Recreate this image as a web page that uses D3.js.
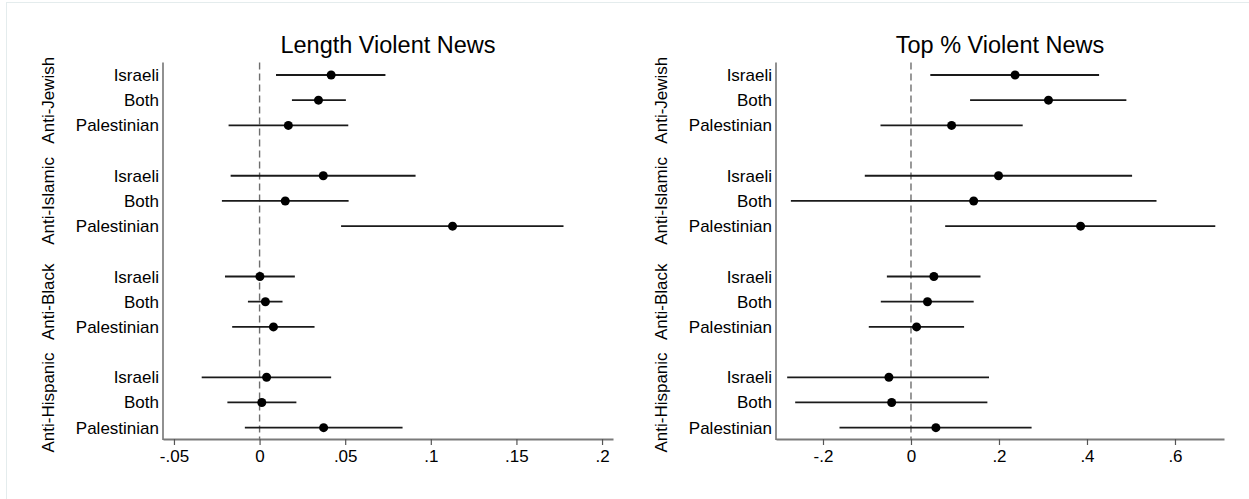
<!DOCTYPE html>
<html>
<head>
<meta charset="utf-8">
<script src="https://cdn.jsdelivr.net/npm/d3@7"></script>
<style>
  html, body { margin: 0; padding: 0; background: #fff; }
  svg { display: block; }
  text { font-family: "Liberation Sans", Arial, Helvetica, sans-serif; fill: #000; }
</style>
</head>
<body>
<svg id="chart" width="1249" height="499"></svg>
<script>
// ---- data ----
const groups = ["Anti-Jewish", "Anti-Islamic", "Anti-Black", "Anti-Hispanic"];
const sources = ["Israeli", "Both", "Palestinian"];

// Panel 1: Length Violent News (order: group x source)
const lengthEst = [0.0418, 0.0344, 0.0168,  0.0372, 0.0150, 0.1127,  0.0002, 0.0034, 0.0081,  0.0041, 0.0013, 0.0374];
const lengthLo  = [0.0096, 0.0189, -0.0181, -0.0169, -0.0220, 0.0476, -0.0202, -0.0068, -0.0160, -0.0338, -0.0188, -0.0086];
const lengthHi  = [0.0735, 0.0504, 0.0518,  0.0911, 0.0520, 0.1775,  0.0206, 0.0134, 0.0321,  0.0418, 0.0215, 0.0835];
const lengthTicks = [-0.05, 0, 0.05, 0.1, 0.15, 0.2];
const lengthTickLabels = ["-.05", "0", ".05", ".1", ".15", ".2"];

// Panel 2: Top % Violent News
const topEst = [0.2366, 0.3125, 0.0923,  0.1990, 0.1425, 0.3855,  0.0520, 0.0375, 0.0127,  -0.0502, -0.0439, 0.0566];
const topLo  = [0.0439, 0.1343, -0.0693, -0.1050, -0.2730, 0.0777, -0.0548, -0.0686, -0.0959, -0.2814, -0.2632, -0.1625];
const topHi  = [0.4275, 0.4895, 0.2539,  0.5025, 0.5580, 0.6916,  0.1580, 0.1425, 0.1207,  0.1773, 0.1736, 0.2741];
const topTicks = [-0.2, 0, 0.2, 0.4, 0.6];
const topTickLabels = ["-.2", "0", ".2", ".4", ".6"];

const titles = ["Length Violent News", "Top % Violent News"];

// ---- layout ----
const svg = d3.select("#chart");

// faint frame
svg.append("rect").attr("x", 6.5).attr("y", 2.5).attr("width", 1260).attr("height", 520)
  .attr("fill", "none").attr("stroke", "#e4eced").attr("stroke-width", 1);

const y = d3.scaleLinear().domain([-0.5, 14.45]).range([62.4, 439]);
const rowPos = (g, s) => g * 4 + s;

const panels = [
  { left: 163, right: 613, domain: [-0.0564, 0.2064], est: lengthEst, lo: lengthLo, hi: lengthHi,
    ticks: lengthTicks, tickLabels: lengthTickLabels, title: titles[0], groupX: 54 },
  { left: 776, right: 1224, domain: [-0.3068, 0.7114], est: topEst, lo: topLo, hi: topHi,
    ticks: topTicks, tickLabels: topTickLabels, title: titles[1], groupX: 667 }
];

panels.forEach(p => {
  const x = d3.scaleLinear().domain(p.domain).range([p.left, p.right]);
  const g = svg.append("g");

  // title
  g.append("text").attr("x", (p.left + p.right) / 2).attr("y", 53)
    .attr("text-anchor", "middle").style("font-size", "23.5px").text(p.title);

  // zero reference line
  g.append("line").attr("x1", x(0)).attr("x2", x(0)).attr("y1", y(-0.5)).attr("y2", y(14.45))
    .attr("stroke", "#6e6e6e").attr("stroke-width", 1.4).attr("stroke-dasharray", "7,4");

  // x axis
  const xAxis = d3.axisBottom(x).tickValues(p.ticks)
    .tickFormat((d, i) => p.tickLabels[i]).tickSizeInner(6).tickSizeOuter(0).tickPadding(5);
  const ax = g.append("g").attr("transform", `translate(0,${y(14.45)})`).call(xAxis);
  ax.select(".domain").attr("stroke", "#7a7a7a").attr("stroke-width", 2);
  ax.selectAll(".tick line").attr("stroke", "#555").attr("stroke-width", 1.2);
  ax.selectAll(".tick text").style("font-size", "17px")
    .style("font-family", '"Liberation Sans", Arial, Helvetica, sans-serif').attr("fill", "#000");

  // y axis line
  g.append("line").attr("x1", p.left).attr("x2", p.left).attr("y1", y(-0.5)).attr("y2", y(14.45) + 1)
    .attr("stroke", "#555").attr("stroke-width", 1.3);

  // row labels & group labels
  groups.forEach((gr, gi) => {
    sources.forEach((s, si) => {
      g.append("text").attr("x", p.left - 4).attr("y", y(rowPos(gi, si)) + 6)
        .attr("text-anchor", "end").style("font-size", "17px").text(s);
    });
    const cy = y(rowPos(gi, 1));
    g.append("text").attr("transform", `translate(${p.groupX},${cy}) rotate(-90)`)
      .attr("text-anchor", "middle").style("font-size", "17px").text(gr);
  });

  // CIs and points
  const data = [];
  groups.forEach((gr, gi) => sources.forEach((s, si) => {
    const k = gi * 3 + si;
    data.push({ pos: rowPos(gi, si), est: p.est[k], lo: p.lo[k], hi: p.hi[k] });
  }));
  g.selectAll("line.ci").data(data).enter().append("line").attr("class", "ci")
    .attr("x1", d => x(d.lo)).attr("x2", d => x(d.hi))
    .attr("y1", d => y(d.pos)).attr("y2", d => y(d.pos))
    .attr("stroke", "#1a1a1a").attr("stroke-width", 1.8);
  g.selectAll("circle.pt").data(data).enter().append("circle").attr("class", "pt")
    .attr("cx", d => x(d.est)).attr("cy", d => y(d.pos)).attr("r", 4.5).attr("fill", "#000");
});
</script>
</body>
</html>
